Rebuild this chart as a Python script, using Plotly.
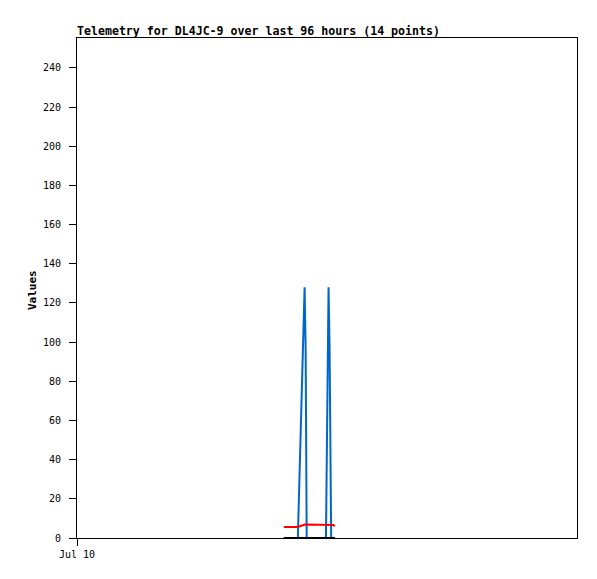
import plotly.graph_objects as go

# Data
times = [
    "2024-07-11 15:42", "2024-07-11 17:00", "2024-07-11 18:24", "2024-07-11 19:42",
    "2024-07-11 19:54", "2024-07-11 20:06", "2024-07-11 21:30", "2024-07-11 22:48",
    "2024-07-11 23:48", "2024-07-12 00:18", "2024-07-12 00:30", "2024-07-12 00:48",
    "2024-07-12 01:12", "2024-07-12 01:30",
]
blue_vals = [0, 0, 0, 128, 96, 0, 0, 0, 0, 128, 96, 0, 0, 0]
red_vals = [5.6, 5.6, 5.6, 6.9, 6.9, 6.9, 6.9, 6.9, 6.9, 6.9, 6.9, 6.9, 6.6, 6.1]
black_vals = [0] * 14

x_range = ["2024-07-10 00:00", "2024-07-14 00:00"]
x_tickvals = ["2024-07-10 00:00"]
x_ticktext = ["Jul 10"]
y_tickvals = list(range(0, 241, 20))
title_text = "Telemetry for DL4JC-9 over last 96 hours (14 points)"
y_title = "Values"

fig = go.Figure()
fig.add_trace(go.Scatter(x=times, y=blue_vals, mode="lines",
                         line=dict(color="#0066CC", width=2), showlegend=False))
fig.add_trace(go.Scatter(x=times, y=red_vals, mode="lines",
                         line=dict(color="#FF0000", width=2), showlegend=False))
fig.add_trace(go.Scatter(x=times, y=black_vals, mode="lines",
                         line=dict(color="#000000", width=2), showlegend=False))

mono = "DejaVu Sans Mono"
# page body has an 8px margin, so the figure is placed at (8, 8)
fig.update_layout(
    width=581, height=563,
    margin=dict(l=69, r=12, t=30, b=33),
    paper_bgcolor="white", plot_bgcolor="white",
    title=dict(text="<b>" + title_text + "</b>", x=0, xref="paper", xanchor="left",
               y=1 - 23 / 563, yref="container", yanchor="middle",
               font=dict(family=mono, size=11.6, color="black")),
    font=dict(family=mono, size=10, color="black"),
    annotations=[dict(text="<b>" + y_title + "</b>", xref="paper", yref="paper",
                      x=0, y=0.496, xanchor="center", yanchor="middle", xshift=-45,
                      textangle=-90, showarrow=False,
                      font=dict(family=mono, size=11, color="black"))],
)
fig.update_xaxes(
    type="date", range=x_range, tickvals=x_tickvals, ticktext=x_ticktext,
    showgrid=False, zeroline=False, showline=True, linecolor="black", linewidth=1,
    mirror=True, ticks="outside", ticklen=7, tickcolor="black", tickwidth=1,
    tickfont=dict(family=mono, size=10, color="black"),
)
fig.update_yaxes(
    range=[0, 255.3], tickvals=y_tickvals,
    showgrid=False, zeroline=False, showline=True, linecolor="black", linewidth=1,
    mirror=True, ticks="outside", ticklen=7, tickcolor="black", tickwidth=1,
    ticklabelstandoff=6,
    tickfont=dict(family=mono, size=10, color="black"),
)

fig.write_html("out.html")
